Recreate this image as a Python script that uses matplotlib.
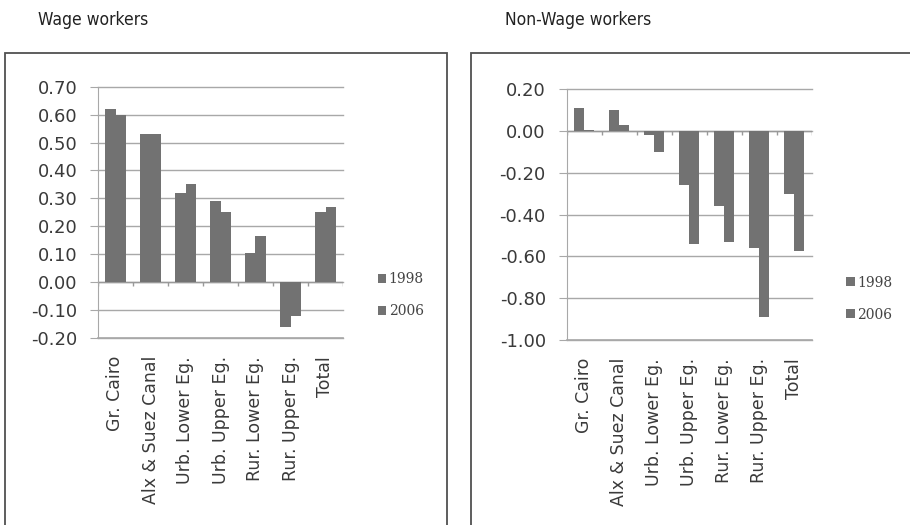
import matplotlib.pyplot as plt
from matplotlib.patches import Rectangle
import numpy as np

regions = ["Gr. Cairo", "Alx & Suez Canal", "Urb. Lower Eg.", "Urb. Upper Eg.",
           "Rur. Lower Eg.", "Rur. Upper Eg.", "Total"]
years = ["1998", "2006"]

# wage workers
wage_1998 = [0.62, 0.53, 0.32, 0.29, 0.105, -0.16, 0.25]
wage_2006 = [0.60, 0.53, 0.35, 0.25, 0.165, -0.12, 0.27]

# non-wage workers
nonwage_1998 = [0.11, 0.10, -0.02, -0.26, -0.36, -0.56, -0.30]
nonwage_2006 = [0.005, 0.03, -0.10, -0.54, -0.53, -0.89, -0.575]

bar_color = "#727272"
grid_color = "#a8a8a8"
bw = 0.29

fig = plt.figure(figsize=(9.1, 5.25), dpi=100)

# panel frames
for x0, x1 in [(5, 447), (471, 920)]:
    fig.patches.append(Rectangle((x0 / 910, -0.02), (x1 - x0) / 910, 1.02 - 53 / 525,
                                 transform=fig.transFigure, fill=False,
                                 edgecolor="#505050", lw=1.3))

title_font = dict(fontsize=12.5, family="DejaVu Sans", fontstretch="condensed",
                  va="center", color="#222222")
fig.text(38 / 910, 1 - 20 / 525, "Wage workers", **title_font)
fig.text(505 / 910, 1 - 20 / 525, "Non-Wage workers", **title_font)


def panel(rect, v98, v06, ylim, step, leg_y):
    ax = fig.add_axes(rect)
    x = np.arange(len(regions))
    b1 = ax.bar(x - bw / 2, v98, bw, color=bar_color, label=years[0], zorder=3)
    b2 = ax.bar(x + bw / 2, v06, bw, color=bar_color, label=years[1], zorder=3)
    ax.set_xlim(-0.5, len(regions) - 0.5)
    ax.set_ylim(*ylim)
    ticks = np.arange(ylim[0], ylim[1] + step / 2, step)
    ax.set_yticks(ticks)
    ax.set_yticklabels([f"{t:.2f}".replace("-0.00", "0.00") for t in ticks],
                       fontsize=13, color="#3a3a3a")
    ax.yaxis.grid(True, color=grid_color, lw=1.0, zorder=0, clip_on=False)
    ax.axhline(ylim[0], color=grid_color, lw=1.2, clip_on=False)
    ax.set_xticks(x)
    ax.set_xticklabels(regions, rotation=90, fontsize=12.5, color="#3a3a3a")
    ax.tick_params(axis="x", length=0, pad=13)
    ax.tick_params(axis="y", length=6, color=grid_color, pad=9)
    for s in ["top", "right", "bottom"]:
        ax.spines[s].set_visible(False)
    ax.spines["left"].set_color(grid_color)
    ax.axhline(0, color="#999999", lw=1.0, zorder=2)
    # small category separator ticks on the zero line
    tick_len = (ylim[1] - ylim[0]) * 0.015
    ax.vlines(np.arange(len(regions) + 1) - 0.5, -tick_len, 0, color="#999999", lw=1.0)
    leg = ax.legend(handles=[b1, b2], loc="center left", bbox_to_anchor=(1.09, leg_y),
                    frameon=False, handlelength=0.6, handleheight=0.6, handletextpad=0.2,
                    labelspacing=1.3, prop={"family": "DejaVu Serif", "size": 10})
    for t in leg.get_texts():
        t.set_color("#444444")
    return ax


panel([98 / 910, 1 - 338 / 525, 245 / 910, (338 - 86.7) / 525],
      wage_1998, wage_2006, (-0.20, 0.70), 0.10, 0.17)
panel([566.7 / 910, 1 - 340 / 525, 245 / 910, (340 - 89.3) / 525],
      nonwage_1998, nonwage_2006, (-1.00, 0.20), 0.20, 0.165)

fig.savefig("out.png", dpi=100)
